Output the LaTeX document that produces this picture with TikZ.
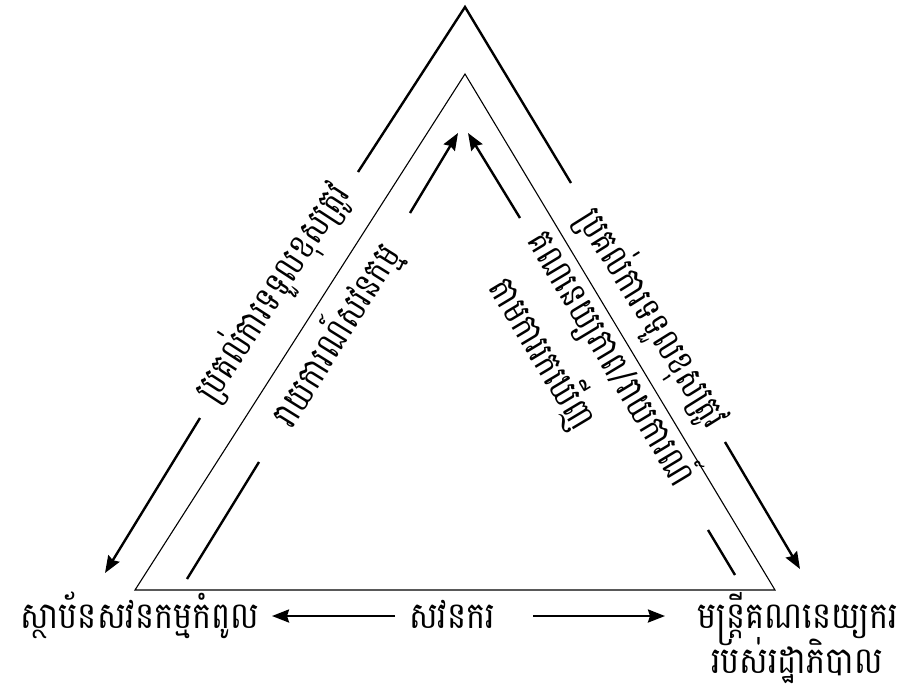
\documentclass[tikz,border=0pt]{standalone}
\usepackage{fontspec}
\newfontfamily\khmerfont[Script=Khmer]{Battambang}
\usetikzlibrary{arrows.meta}
\newcommand{\kh}[1]{\scalebox{1}[1.25]{#1}}
\newcommand{\khb}[1]{\scalebox{1}[1.15]{#1}}

\begin{document}
\begin{tikzpicture}[x=1pt,y=-1pt,
  lbl/.style={font=\khmerfont\fontsize{30}{34}\selectfont, inner sep=0pt},
  biglbl/.style={lbl, font=\khmerfont\fontsize{32}{36}\selectfont, anchor=base},
  thickline/.style={line width=2.4pt},
  thinline/.style={line width=1.1pt},
  arr/.style={-{Stealth[length=17pt,width=13pt,inset=2pt]}}]
\useasboundingbox (0,0) rectangle (908,689);
% inner triangle
\coordinate (itop) at (465,74);
\coordinate (ileft) at (135,590);
\coordinate (iright) at (775,590);
\draw[thinline, line join=miter] (itop) -- (ileft) -- (iright) -- cycle;
% outer chevron, broken by the labels
\coordinate (otop) at (465,7);
\coordinate (ol1) at (358,172);
\coordinate (ol2) at (200,418);
\coordinate (oltip) at (105,573);
\coordinate (or1) at (571,183);
\coordinate (or2) at (725,442);
\coordinate (ortip) at (800,569);
\draw[thickline, line join=miter] (ol1) -- (otop) -- (or1);
\draw[thickline, arr] (ol2) -- (oltip);
\draw[thickline, arr] (or2) -- (ortip);
% inner arrows up to the top
\coordinate (il1) at (187,579);
\coordinate (il2) at (259,462);
\coordinate (il3) at (410,213);
\coordinate (iltip) at (458,133);
\coordinate (ir1) at (735,575);
\coordinate (ir2) at (708,530);
\coordinate (ir3) at (520,218);
\coordinate (irtip) at (468,133);
\draw[thickline] (il1) -- (il2);
\draw[thickline, arr] (il3) -- (iltip);
\draw[thickline] (ir1) -- (ir2);
\draw[thickline, arr] (ir3) -- (irtip);
% side labels
\node[lbl, rotate=57] (delegL) at (272,292) {\kh{ប្រគល់ការទទួលខុសត្រូវ}};
\node[lbl, rotate=58] (report) at (336,335) {\kh{រាយការណ៍សវនកម្ម}};
\node[lbl, rotate=-58] (delegR) at (653,318) {\kh{ប្រគល់ការទទួលខុសត្រូវ}};
\node[lbl, rotate=-59] (accnt) at (612,358) {\kh{គណនេយ្យភាព/រាយការណ៍}};
\node[lbl, rotate=-59] (finds) at (543,353) {\kh{តាមការរកឃើញ}};
% bottom labels
\node[biglbl] (sai) at (140,628) {\khb{ស្ថាប័នសវនកម្មកំពូល}};
\node[biglbl] (aud) at (452,628) {\khb{សវនករ}};
\node[biglbl] (gov) at (798,628) {\khb{មន្ត្រីគណនេយ្យករ}};
\node[biglbl] (gov2) at (797,673) {\khb{របស់រដ្ឋាភិបាល}};
\draw[thickline, arr] (395,616) -- (272,616);
\draw[thickline, arr] (533,616) -- (665,616);
\end{tikzpicture}
\end{document}
